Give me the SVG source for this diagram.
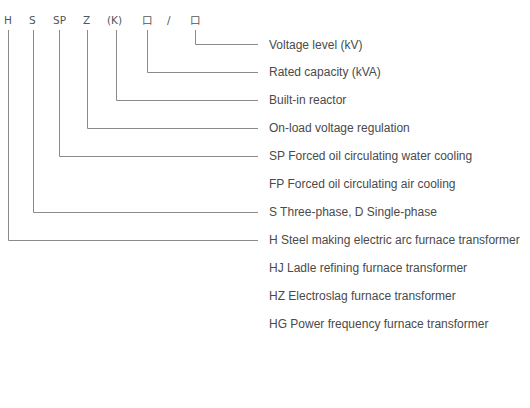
<svg xmlns="http://www.w3.org/2000/svg" width="530" height="408" viewBox="0 0 530 408">
<style>
.code{font-family:"DejaVu Sans","Noto Sans CJK SC",sans-serif;font-size:10.5px;fill:#555}
.lbl{font-family:"Liberation Sans",Arial,sans-serif;font-size:12px;fill:#4a4a4a}
.conn path{fill:none;stroke:#8a8a8a;stroke-width:1}
</style>
<rect width="530" height="408" fill="#fff"/>
<g id="code">
<text class="code" x="4" y="24">H</text>
<text class="code" x="29" y="24">S</text>
<text class="code" x="53" y="24">SP</text>
<text class="code" x="83" y="24">Z</text>
<text class="code" x="107" y="24">(K)</text>
<text class="code" x="142" y="24">口</text>
<text class="code" x="167" y="24">/</text>
<text class="code" x="190" y="24">口</text>
</g>
<g class="conn" id="connectors">
<path d="M195.5 30V44.5H258"/>
<path d="M147.5 30V72.5H258"/>
<path d="M116.5 30V100.5H258"/>
<path d="M87.5 30V128.5H258"/>
<path d="M59.5 30V156.5H258"/>
<path d="M33.5 30V212.5H258"/>
<path d="M8.5 30V240.5H258"/>
</g>
<g id="n1"><text class="lbl" x="269" y="48.5">Voltage level (kV)</text></g>
<g id="n2"><text class="lbl" x="269" y="76">Rated capacity (kVA)</text></g>
<g id="n3"><text class="lbl" x="269" y="104">Built-in reactor</text></g>
<g id="n4"><text class="lbl" x="269" y="132">On-load voltage regulation</text></g>
<g id="n5"><text class="lbl" x="269" y="160">SP Forced oil circulating water cooling</text></g>
<g id="n6"><text class="lbl" x="269" y="188">FP Forced oil circulating air cooling</text></g>
<g id="n7"><text class="lbl" x="269" y="216">S Three-phase, D Single-phase</text></g>
<g id="n8"><text class="lbl" x="269" y="244">H Steel making electric arc furnace transformer</text></g>
<g id="n9"><text class="lbl" x="269" y="272">HJ Ladle refining furnace transformer</text></g>
<g id="n10"><text class="lbl" x="269" y="300">HZ Electroslag furnace transformer</text></g>
<g id="n11"><text class="lbl" x="269" y="328">HG Power frequency furnace transformer</text></g>
</svg>
